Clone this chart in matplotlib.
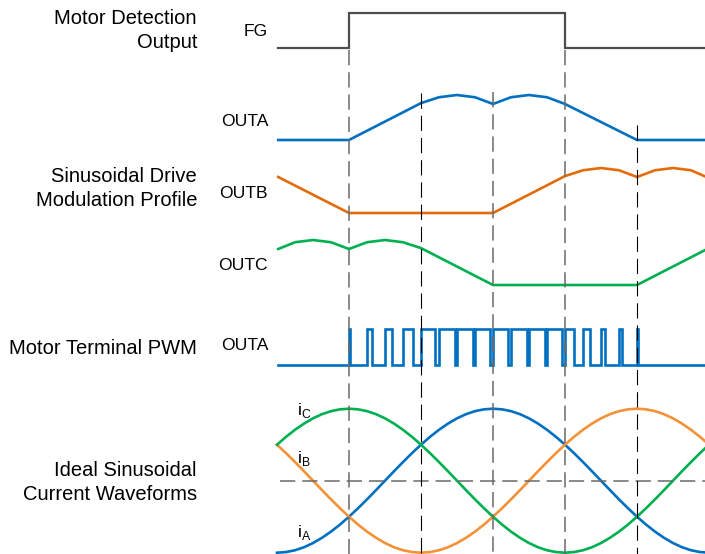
import matplotlib
matplotlib.use("Agg")
import matplotlib.pyplot as plt
import matplotlib.transforms as mtransforms

plt.rcParams['font.family'] = ['Liberation Sans', 'DejaVu Sans']
plt.rcParams['mathtext.fontset'] = 'custom'
plt.rcParams['mathtext.rm'] = 'Liberation Sans'
plt.rcParams['lines.scale_dashes'] = False

# ---------------- data (electrical phase in degrees) ----------------
fg_phase = [-179, -120, -120, 60, 60, 177]
fg_level = [0, 0, 1, 1, 0, 0]

outa_phase = [-179, -120, -60, -45, -30, -15, 0, 15, 30, 45, 60, 120, 177]
outa_mod = [0, 0, 0.82, 0.95, 1.0, 0.95, 0.80, 0.95, 1.0, 0.95, 0.80, 0, 0]

outb_phase = [-179, -120, 0, 60, 75, 90, 105, 120, 135, 150, 165, 177]
outb_mod = [0.80, 0, 0, 0.82, 0.95, 1.0, 0.95, 0.80, 0.95, 1.0, 0.95, 0.81]

outc_phase = [-179, -165, -150, -135, -120, -105, -90, -75, -60, 0, 120, 177]
outc_mod = [0.80, 0.95, 1.0, 0.95, 0.80, 0.95, 1.0, 0.95, 0.82, 0, 0, 0.78]

# PWM pulse edges (rise, fall) in degrees
pwm_rise = [-120, -105, -90, -75, -60, -45, -30, -15, 0, 15, 30, 45, 60, 75, 90, 105, 120]
pwm_fall = [-118.8, -100.5, -84, -66.5, -48, -32, -17, -2.5, 12.5, 28, 43, 57.5,
            67.5, 81, 93.5, 107.5, 121]
pwm_start, pwm_end = -179, 177

cur_phase = [-180.0, -172.5, -165.0, -157.5, -150.0, -142.5, -135.0, -127.5,
             -120.0, -112.5, -105.0, -97.5, -90.0, -82.5, -75.0, -67.5,
             -60.0, -52.5, -45.0, -37.5, -30.0, -22.5, -15.0, -7.5,
             0.0, 7.5, 15.0, 22.5, 30.0, 37.5, 45.0, 52.5,
             60.0, 67.5, 75.0, 82.5, 90.0, 97.5, 105.0, 112.5,
             120.0, 127.5, 135.0, 142.5, 150.0, 157.5, 165.0, 172.5, 180.0]
i_a = [-1.0, -0.991, -0.966, -0.924, -0.866, -0.793, -0.707, -0.609,
       -0.5, -0.383, -0.259, -0.131, 0.0, 0.131, 0.259, 0.383,
       0.5, 0.609, 0.707, 0.793, 0.866, 0.924, 0.966, 0.991,
       1.0, 0.991, 0.966, 0.924, 0.866, 0.793, 0.707, 0.609,
       0.5, 0.383, 0.259, 0.131, 0.0, -0.131, -0.259, -0.383,
       -0.5, -0.609, -0.707, -0.793, -0.866, -0.924, -0.966, -0.991, -1.0]
i_b = [0.5, 0.383, 0.259, 0.131, 0.0, -0.131, -0.259, -0.383,
       -0.5, -0.609, -0.707, -0.793, -0.866, -0.924, -0.966, -0.991,
       -1.0, -0.991, -0.966, -0.924, -0.866, -0.793, -0.707, -0.609,
       -0.5, -0.383, -0.259, -0.131, 0.0, 0.131, 0.259, 0.383,
       0.5, 0.609, 0.707, 0.793, 0.866, 0.924, 0.966, 0.991,
       1.0, 0.991, 0.966, 0.924, 0.866, 0.793, 0.707, 0.609, 0.5]
i_c = [0.5, 0.609, 0.707, 0.793, 0.866, 0.924, 0.966, 0.991,
       1.0, 0.991, 0.966, 0.924, 0.866, 0.793, 0.707, 0.609,
       0.5, 0.383, 0.259, 0.131, 0.0, -0.131, -0.259, -0.383,
       -0.5, -0.609, -0.707, -0.793, -0.866, -0.924, -0.966, -0.991,
       -1.0, -0.991, -0.966, -0.924, -0.866, -0.793, -0.707, -0.609,
       -0.5, -0.383, -0.259, -0.131, 0.0, 0.131, 0.259, 0.383, 0.5]

marker_phase = [-120, -60, 0, 60, 120]
marker_kind = ['gray', 'black', 'gray', 'gray', 'black']

# ---------------- layout ----------------
W, H = 705, 554
fig = plt.figure(figsize=(W / 100, H / 100), dpi=100)
ax = fig.add_axes([0, 0, 1, 1])
PX_DEG = 1.2
X0 = 493
ax.set_xlim((0 - X0) / PX_DEG, (W - X0) / PX_DEG)
ax.set_ylim(H, 0)
ax.axis('off')

px = mtransforms.Affine2D().scale(1 / W, -1 / H).translate(0, 1) + fig.transFigure

BLUE = '#0070C0'
ORANGE_D = '#E36C0A'
ORANGE_L = '#F39237'
GREEN = '#00B050'
LW = 1.9

def y_of(base, amp, vals):
    return [base - amp * v for v in vals]

# FG
ax.plot(fg_phase, y_of(48, 35, fg_level), color='#4d4d4d', lw=1.6, solid_joinstyle='miter')

# modulation profiles
ax.plot(outa_phase, y_of(140, 45, outa_mod), color=BLUE, lw=LW)
ax.plot(outb_phase, y_of(213, 45, outb_mod), color=ORANGE_D, lw=LW)
ax.plot(outc_phase, y_of(285, 45, outc_mod), color=GREEN, lw=LW)

# PWM
xs = [pwm_start]
lv = [0]
for r, f in zip(pwm_rise, pwm_fall):
    xs += [r, r, f, f]
    lv += [0, 1, 1, 0]
xs.append(pwm_end)
lv.append(0)
ax.plot(xs, y_of(365, 36, lv), color=BLUE, lw=LW, solid_joinstyle='miter')

# currents
ax.plot(cur_phase, y_of(480.7, 72, i_a), color=BLUE, lw=LW)
ax.plot(cur_phase, y_of(480.7, 72, i_b), color=ORANGE_L, lw=LW)
ax.plot(cur_phase, y_of(480.7, 72, i_c), color=GREEN, lw=LW)

# zero line of currents
ax.plot([(280 - X0) / PX_DEG, (W - X0) / PX_DEG], [480.7, 480.7], color='#6a6a6a',
        lw=1.1, dashes=(11, 5))

# vertical markers
tops = {-120: 50, -60: 93, 0: 92, 60: 50, 120: 125}
for p, k in zip(marker_phase, marker_kind):
    if k == 'gray':
        ax.plot([p, p], [tops[p], H], color='#6a6a6a', lw=1.1, dashes=(11, 5))
    else:
        ax.plot([p, p], [tops[p], H], color='black', lw=0.8, dashes=(11, 5))

# texts
FS_G = 14.5
FS_S = 12.6
def t(x, y, s, fs, ha='right'):
    ax.text(x, y, s, transform=px, fontsize=fs, ha=ha, va='center', color='black')

t(197, 18, 'Motor Detection', FS_G)
t(197, 42, 'Output', FS_G)
t(197, 176, 'Sinusoidal Drive', FS_G)
t(197, 200, 'Modulation Profile', FS_G)
t(197, 348, 'Motor Terminal PWM', FS_G)
t(197, 471, 'Ideal Sinusoidal', FS_G)
t(197, 494, 'Current Waveforms', FS_G)

t(268, 32, 'FG', FS_S)
t(268, 122, 'OUTA', FS_S)
t(268, 194, 'OUTB', FS_S)
t(268, 266, 'OUTC', FS_S)
t(268, 346, 'OUTA', FS_S)

t(297, 410, r'i$_{\mathregular{C}}$', FS_S, ha='left')
t(297, 459, r'i$_{\mathregular{B}}$', FS_S, ha='left')
t(297, 532, r'i$_{\mathregular{A}}$', FS_S, ha='left')

fig.savefig('out.png', dpi=100)
